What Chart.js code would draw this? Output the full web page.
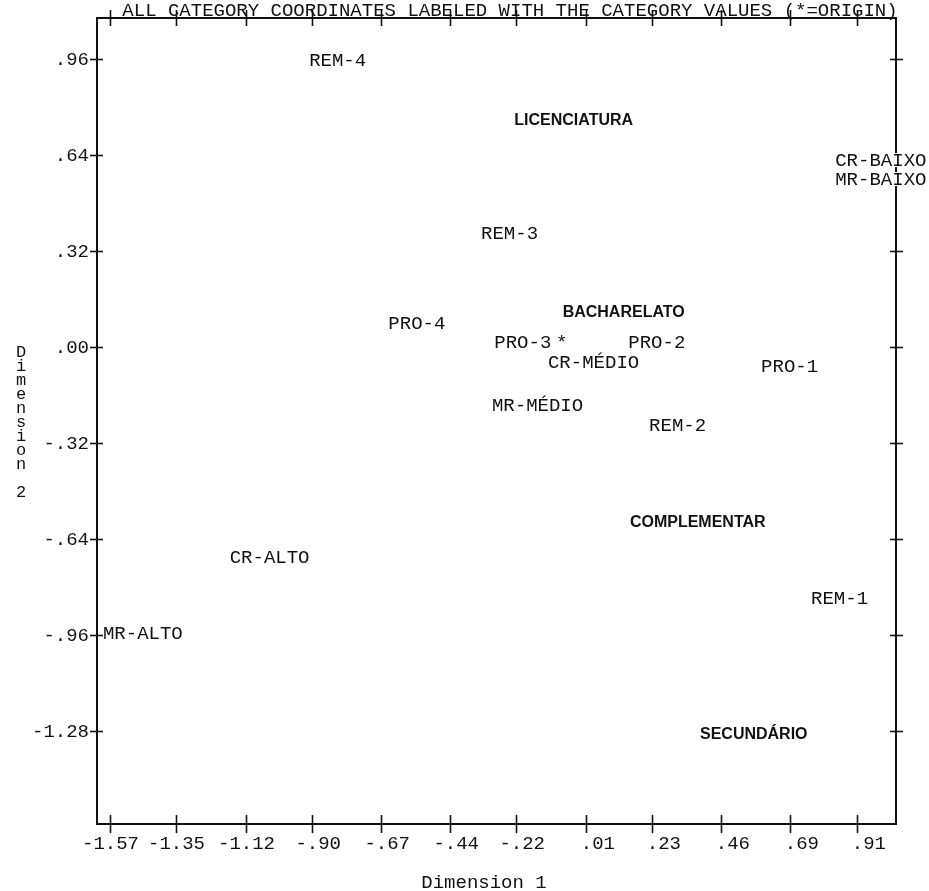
<!DOCTYPE html>
<html><head><meta charset="utf-8">
<script src="https://cdn.jsdelivr.net/npm/chart.js@4.4.1/dist/chart.umd.min.js"></script>
<style>html,body{margin:0;padding:0;background:#fff;}canvas{display:block;}</style>
</head><body>
<canvas id="c" width="929" height="891"></canvas>
<script>
// ---- text ----
const chartTitle = 'ALL CATEGORY COORDINATES LABELED WITH THE CATEGORY VALUES (*=ORIGIN)';
const xAxisTitle = 'Dimension 1';
const yAxisTitle = 'Dimension 2';
const xTickLabels = ['-1.57','-1.35','-1.12','-.90','-.67','-.44','-.22','.01','.23','.46','.69','.91'];
const yTickLabels = ['.96','.64','.32','.00','-.32','-.64','-.96','-1.28'];

// ---- category coordinates ----
const remLabels = ['REM-1','REM-2','REM-3','REM-4'];
const remX = [0.853, 0.315, -0.243, -0.814];
const remY = [-0.837, -0.260, 0.380, 0.957];

const proLabels = ['PRO-1','PRO-2','PRO-3','PRO-4'];
const proX = [0.687, 0.246, -0.199, -0.551];
const proY = [-0.063, 0.017, 0.017, 0.080];

const crLabels = ['CR-ALTO','CR-MÉDIO','CR-BAIXO'];
const crX = [-1.040, 0.036, 0.990];
const crY = [-0.700, -0.050, 0.623];

const mrLabels = ['MR-ALTO','MR-MÉDIO','MR-BAIXO'];
const mrX = [-1.461, -0.150, 0.990];
const mrY = [-0.953, -0.193, 0.560];

const eduLabels = ['LICENCIATURA','BACHARELATO','COMPLEMENTAR','SECUNDÁRIO'];
const eduX = [-0.030, 0.136, 0.382, 0.568];
const eduY = [0.757, 0.117, -0.583, -1.287];

const originLabels = ['*'];
const originX = [-0.070];
const originY = [0.017];

// ---- drawing ----
const MONO = '19px "Liberation Mono", "DejaVu Sans Mono", monospace';
const MONO_SMALL = '17px "Liberation Mono", "DejaVu Sans Mono", monospace';
const BOLD = 'bold 16px "Liberation Sans", Arial, sans-serif';
const INK = '#111';

const mk = (xs, ys) => xs.map((v, i) => ({x: v, y: ys[i]}));

function line(ctx, x1, y1, x2, y2) {
  ctx.beginPath(); ctx.moveTo(x1, y1); ctx.lineTo(x2, y2); ctx.stroke();
}

const framePlugin = {
  id: 'samFrame',
  afterDraw(chart) {
    const {ctx, chartArea: a} = chart;
    const xs = chart.scales.x, ys = chart.scales.y;
    ctx.save();
    ctx.strokeStyle = INK;
    ctx.fillStyle = INK;
    ctx.lineWidth = 2;
    ctx.strokeRect(a.left, a.top, a.right - a.left, a.bottom - a.top);
    ctx.lineWidth = 1.6;
    ctx.font = MONO;
    const adv = ctx.measureText('0').width;
    // x ticks (bottom and top) and labels aligned on the decimal point
    xTickLabels.forEach(l => {
      const px = Math.round(xs.getPixelForValue(parseFloat(l))) + 0.5;
      line(ctx, px, a.bottom - 9, px, a.bottom + 9);
      line(ctx, px, a.top - 8, px, a.top + 8);
      const k = l.indexOf('.');
      ctx.textAlign = 'left'; ctx.textBaseline = 'middle';
      ctx.fillText(l, px - (k + 0.5) * adv, a.bottom + 20);
    });
    // y ticks (left and right) and labels
    yTickLabels.forEach(l => {
      const py = Math.round(ys.getPixelForValue(parseFloat(l))) + 0.5;
      line(ctx, a.left - 7, py, a.left + 6, py);
      line(ctx, a.right - 6, py, a.right + 7, py);
      ctx.textAlign = 'right'; ctx.textBaseline = 'middle';
      ctx.fillText(l, a.left - 8, py);
    });
    // titles
    ctx.textAlign = 'center'; ctx.textBaseline = 'middle';
    ctx.fillText(chartTitle, 510, 11);
    ctx.fillText(xAxisTitle, 484, 883);
    ctx.font = MONO_SMALL;
    const chars = yAxisTitle.split('');
    chars.forEach((ch, i) => {
      if (ch === ' ') return;
      const yy = (i === chars.length - 1) ? 492 : 352 + i * 14;
      ctx.fillText(ch, 21, yy);
    });
    // category labels at their coordinates
    chart.data.datasets.forEach((ds, i) => {
      const meta = chart.getDatasetMeta(i);
      ctx.font = ds.bold ? BOLD : MONO;
      meta.data.forEach((el, j) => {
        const t = ds.pointLabels[j];
        const w = ctx.measureText(t).width;
        ctx.fillStyle = '#fff';
        ctx.fillRect(el.x - w / 2 + 1, el.y - 7, w - 2, 14);
        ctx.fillStyle = INK;
        ctx.textAlign = 'center'; ctx.textBaseline = 'middle';
        ctx.fillText(t, el.x, el.y + 1);
      });
    });
    ctx.restore();
  }
};

const groups = [
  {label: 'REM', data: mk(remX, remY), pointLabels: remLabels, bold: false},
  {label: 'PRO', data: mk(proX, proY), pointLabels: proLabels, bold: false},
  {label: 'CR', data: mk(crX, crY), pointLabels: crLabels, bold: false},
  {label: 'MR', data: mk(mrX, mrY), pointLabels: mrLabels, bold: false},
  {label: 'Escolaridade', data: mk(eduX, eduY), pointLabels: eduLabels, bold: true},
  {label: 'Origem', data: mk(originX, originY), pointLabels: originLabels, bold: false}
];

new Chart(document.getElementById('c'), {
  type: 'scatter',
  data: {datasets: groups.map(g => Object.assign({}, g, {pointRadius: 0, pointHoverRadius: 0, showLine: false}))},
  options: {
    responsive: false,
    animation: false,
    devicePixelRatio: 1,
    events: [],
    layout: {padding: {left: 97, right: 33, top: 18, bottom: 67}},
    plugins: {legend: {display: false}, tooltip: {enabled: false}, title: {display: false}},
    scales: {
      x: {type: 'linear', min: -1.6132, max: 1.0404, display: false},
      y: {type: 'linear', min: -1.5900, max: 1.0967, display: false}
    }
  },
  plugins: [framePlugin]
});
</script>
</body></html>
